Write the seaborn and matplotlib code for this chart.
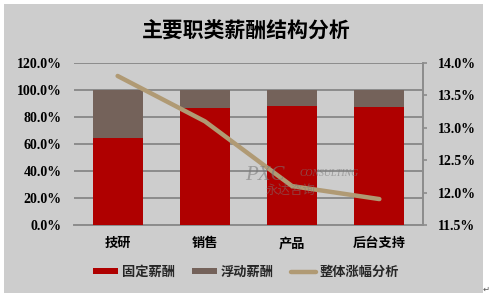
import matplotlib
matplotlib.use("Agg")
import matplotlib.pyplot as plt
import seaborn as sns
import pandas as pd
from matplotlib.patches import Rectangle, Patch
from matplotlib.lines import Line2D
from matplotlib.ticker import FuncFormatter

sns.set_theme(style="white")
plt.rcParams['font.family'] = ['Noto Sans CJK SC', 'DejaVu Sans']

categories = ["技研", "销售", "产品", "后台支持"]
fixed_pct = [64.5, 87.0, 88.4, 87.4]
total_pct = [100.0, 100.0, 100.0, 100.0]
raise_pct = [13.8, 13.1, 12.1, 11.9]
left_ticks = [0, 20, 40, 60, 80, 100, 120]
right_ticks = [11.5, 12.0, 12.5, 13.0, 13.5, 14.0]

title = "主要职类薪酬结构分析"
legend_labels = ["固定薪酬", "浮动薪酬", "整体涨幅分析"]

RED = "#AF0000"
BROWN = "#74625A"
TAN = "#B09A74"
BG = "#CDCDCD"
GRID = "#8C8C8C"

df = pd.DataFrame({"cat": categories, "fixed": fixed_pct, "total": total_pct, "raise": raise_pct})

fig = plt.figure(figsize=(4.92, 3.0), dpi=100)
fig.patch.set_facecolor("white")
fig.patches.append(Rectangle((4 / 492, 1 - 293 / 300), 479 / 492, 289 / 300,
                             transform=fig.transFigure, facecolor=BG, edgecolor="none", zorder=-10))

ax = fig.add_axes([74 / 492, 1 - 225 / 300, 349 / 492, 162 / 300])
ax.set_facecolor("none")

sns.barplot(data=df, x="cat", y="total", color=BROWN, width=0.575, ax=ax, saturation=1,
            linewidth=0, edgecolor="none", zorder=3)
sns.barplot(data=df, x="cat", y="fixed", color=RED, width=0.575, ax=ax, saturation=1,
            linewidth=0, edgecolor="none", zorder=3)

ax.set_ylim(0, 120)
ax.set_xlim(-0.5, 3.5)
ax.set_yticks(left_ticks)
ax.yaxis.set_major_formatter(FuncFormatter(lambda v, p: f"{v:.1f}%"))
ax.grid(axis="y", color=GRID, linewidth=1.4, zorder=0)
ax.set_axisbelow(True)
for s in ["top", "right", "left"]:
    ax.spines[s].set_visible(False)
ax.spines["bottom"].set_color(GRID)
ax.spines["bottom"].set_linewidth(1.4)
ax.tick_params(axis="y", length=0, pad=9)
ax.tick_params(axis="x", length=0, pad=8)
ax.set_xlabel("")
ax.set_ylabel("")
for lab in ax.get_yticklabels():
    lab.set_fontfamily("Liberation Serif")
    lab.set_fontweight("bold")
    lab.set_fontsize(10)
    lab.set_color("black")
for lab in ax.get_xticklabels():
    lab.set_fontweight("bold")
    lab.set_fontsize(9.5)
    lab.set_color("black")

ax2 = ax.twinx()
sns.lineplot(x=list(range(len(categories))), y=raise_pct, ax=ax2, color=TAN, linewidth=3.2,
             solid_capstyle="round", zorder=5)
ax2.set_ylim(11.5, 14.0)
ax2.set_yticks(right_ticks)
ax2.yaxis.set_major_formatter(FuncFormatter(lambda v, p: f"{v:.1f}%"))
for s in ["top", "left", "bottom"]:
    ax2.spines[s].set_visible(False)
ax2.spines["right"].set_color(GRID)
ax2.spines["right"].set_linewidth(1.4)
ax2.tick_params(axis="y", length=3, width=1.2, color=GRID, pad=8, right=True)
for lab in ax2.get_yticklabels():
    lab.set_fontfamily("Liberation Serif")
    lab.set_fontweight("bold")
    lab.set_fontsize(10)
    lab.set_color("black")

# watermark
fig.text(245 / 492, 1 - 176 / 300, "PXC", fontfamily="Liberation Serif", style="italic",
         fontsize=15, color="#7a7a7a", alpha=0.6, va="center", ha="left")
fig.text(299 / 492, 1 - 174 / 300, "CONSULTING", fontfamily="Liberation Serif", style="italic",
         fontsize=7, color="#7a7a7a", alpha=0.6, va="center", ha="left")
fig.text(266 / 492, 1 - 190 / 300, "永达咨询", fontsize=9, color="#7a7a7a", alpha=0.5,
         va="center", ha="left")

fig.text(246 / 492, 1 - 31 / 300, title, fontsize=15, fontweight="bold", ha="center", va="center",
         color="black")

handles = [Patch(facecolor=RED, edgecolor="none"),
           Patch(facecolor=BROWN, edgecolor="none"),
           Line2D([0], [0], color=TAN, linewidth=3.2)]
leg = fig.legend(handles, legend_labels, loc="center", bbox_to_anchor=(246 / 492, 1 - 272 / 300),
                 ncol=3, frameon=False, handlelength=1.9, handleheight=0.35, handletextpad=0.3,
                 columnspacing=1.3, prop={"weight": "bold", "size": 9.5})

fig.text(486 / 492, 1 - 289 / 300, "↵", fontfamily="DejaVu Sans", fontsize=6, color="#555555",
         ha="center", va="center")

fig.savefig("out.png", dpi=100, facecolor="white")
